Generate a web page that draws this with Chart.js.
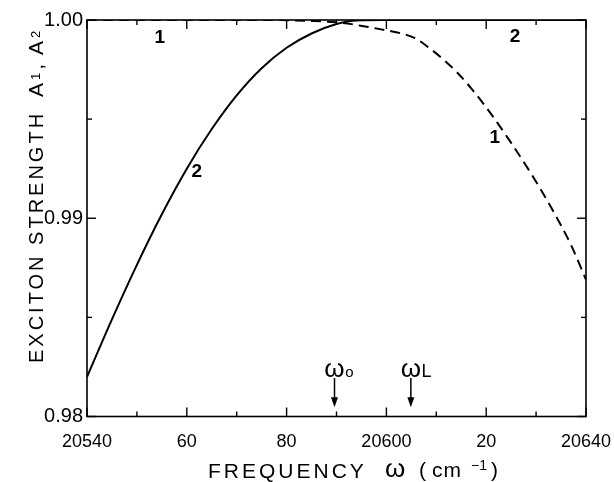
<!DOCTYPE html>
<html><head><meta charset="utf-8">
<script src="https://cdn.jsdelivr.net/npm/chart.js@4"></script>
<style>html,body{margin:0;padding:0;background:#fff}</style>
</head><body>
<canvas id="c" width="614" height="482" style="width:614px;height:482px;display:block"></canvas>
<script>
// ---- data ----
const curve2Freq     = [20540, 20545, 20550, 20555, 20560, 20565, 20570, 20575, 20580, 20585, 20590, 20594, 20600, 20640];
const curve2Strength = [0.98200, 0.98490, 0.98765, 0.99020, 0.99250, 0.99450, 0.99620, 0.99757, 0.99860, 0.99932, 0.99980, 0.99998, 1.00000, 1.00000];
const curve1Freq     = [20540, 20575, 20585, 20591, 20596, 20601, 20604, 20606, 20608, 20611, 20614, 20617, 20621, 20625, 20629, 20633, 20637, 20640];
const curve1Strength = [1.00000, 1.00000, 0.99995, 0.99986, 0.99966, 0.99943, 0.99925, 0.99905, 0.99870, 0.99810, 0.99740, 0.99655, 0.99525, 0.99380, 0.99225, 0.99055, 0.98865, 0.98690];
const xTicks    = [20540, 20550, 20560, 20570, 20580, 20590, 20600, 20610, 20620, 20630, 20640];
const xTickText = ['20540', '', '60', '', '80', '', '20600', '', '20', '', '20640'];
const yTicks    = [0.98, 0.985, 0.99, 0.995, 1.00];
const yTickText = ['0.98', '', '0.99', '', '1.00'];
const curveLabelText     = ['1', '2', '1', '2'];
const curveLabelFreq     = [20554.6, 20625.8, 20621.7, 20562.0];
const curveLabelStrength = [0.99909, 0.99914, 0.99404, 0.99234];
const markerSub  = ['o', 'L'];
const markerFreq = [20589.6, 20604.9];
const arrowFrom = 0.98194, arrowTo = 0.98047;
const xTitle = 'FREQUENCY';
const yTitle = 'EXCITON STRENGTH';

const FONT = '"Liberation Sans", Arial, sans-serif';
const zip = (xs, ys) => xs.map((v, i) => ({x: v, y: ys[i]}));

const framePlugin = {
  id: 'frame',
  afterDatasetsDraw(chart) {
    const {ctx, chartArea: a, scales: {x, y}} = chart;
    const line = (x0, y0, x1, y1) => { ctx.beginPath(); ctx.moveTo(x0, y0); ctx.lineTo(x1, y1); ctx.stroke(); };
    ctx.save();
    ctx.strokeStyle = '#000'; ctx.fillStyle = '#000';
    ctx.lineWidth = 1.6;
    ctx.strokeRect(a.left, a.top, a.right - a.left, a.bottom - a.top);
    ctx.lineWidth = 1.4;
    xTicks.forEach((v, i) => {
      const px = x.getPixelForValue(v), L = xTickText[i] ? 9 : 5;
      line(px, a.bottom, px, a.bottom - L);
      line(px, a.top, px, a.top + L);
    });
    yTicks.forEach((v, i) => {
      const py = y.getPixelForValue(v), L = yTickText[i] ? 9 : 5;
      line(a.left, py, a.left + L, py);
      line(a.right, py, a.right - L, py);
    });
    // curve labels
    ctx.font = 'bold 19px ' + FONT; ctx.textAlign = 'center'; ctx.textBaseline = 'middle';
    curveLabelText.forEach((t, i) => ctx.fillText(t, x.getPixelForValue(curveLabelFreq[i]), y.getPixelForValue(curveLabelStrength[i])));
    // arrows and omega markers
    markerFreq.forEach((f, i) => {
      const px = x.getPixelForValue(f), y0 = y.getPixelForValue(arrowFrom), y1 = y.getPixelForValue(arrowTo);
      ctx.lineWidth = 1.5;
      line(px, y0, px, y1 - 6);
      ctx.beginPath(); ctx.moveTo(px - 3.5, y1 - 10); ctx.lineTo(px + 3.5, y1 - 10); ctx.lineTo(px, y1); ctx.closePath(); ctx.fill();
      ctx.textAlign = 'left'; ctx.textBaseline = 'alphabetic';
      ctx.font = '26px ' + FONT;
      const w = ctx.measureText('\u03c9').width;
      ctx.fillText('\u03c9', px - w / 2, y0 - 1);
      ctx.font = (markerSub[i] === 'L' ? '18px ' : '15px ') + FONT;
      ctx.fillText(markerSub[i], px + w / 2 + 0.5, y0 - 1);
    });
    // x title
    ctx.textAlign = 'left'; ctx.textBaseline = 'alphabetic';
    ctx.font = '21px ' + FONT; ctx.letterSpacing = '3px';
    ctx.fillText(xTitle, 208, 478);
    ctx.letterSpacing = '0px';
    ctx.font = '26px ' + FONT; ctx.fillText('\u03c9', 385, 477);
    ctx.font = '21px ' + FONT; ctx.letterSpacing = '1px';
    ctx.fillText('(', 419, 477);
    ctx.fillText('cm', 432, 477);
    ctx.font = '14px ' + FONT; ctx.letterSpacing = '0px';
    ctx.fillText('\u22121', 471, 470);
    ctx.font = '21px ' + FONT;
    ctx.fillText(')', 491, 477);
    // y title (rotated)
    ctx.save();
    ctx.translate(43, 363); ctx.rotate(-Math.PI / 2);
    ctx.font = '20px ' + FONT; ctx.letterSpacing = '3px';
    ctx.fillText(yTitle, 0, 0);
    let cx = 266;
    const seg = (t, size, dy) => { ctx.font = size + 'px ' + FONT; ctx.fillText(t, cx, dy); cx += ctx.measureText(t).width; };
    seg('A', 21, 0); seg('1', 13, -3); seg(',', 21, 0); cx += 6; seg('A', 21, 0); seg('2', 13, -3);
    ctx.restore();
    ctx.restore();
  }
};

new Chart(document.getElementById('c'), {
  type: 'line',
  data: {
    datasets: [
      {label: '2', data: zip(curve2Freq, curve2Strength), borderColor: '#000', borderWidth: 2, pointRadius: 0,
       cubicInterpolationMode: 'monotone', fill: false},
      {label: '1', data: zip(curve1Freq, curve1Strength), borderColor: '#000', borderWidth: 2, pointRadius: 0,
       borderDash: [10, 6], cubicInterpolationMode: 'monotone', fill: false}
    ]
  },
  options: {
    responsive: false, animation: false, devicePixelRatio: 1,
    layout: {padding: {top: 20, right: 28, left: 0, bottom: 0}},
    plugins: {legend: {display: false}, tooltip: {enabled: false}},
    scales: {
      x: {
        type: 'linear', min: 20540, max: 20640,
        grid: {display: false, drawTicks: false}, border: {display: false},
        afterBuildTicks: s => { s.ticks = xTicks.map(v => ({value: v})); },
        ticks: {autoSkip: false, maxRotation: 0, padding: 15, color: '#000', font: {size: 18, family: FONT},
                callback: (v, i) => xTickText[i]},
        afterFit: s => { s.height = 65.5; s.paddingLeft = 0; s.paddingRight = 0; }
      },
      y: {
        type: 'linear', min: 0.98, max: 1.0,
        grid: {display: false, drawTicks: false}, border: {display: false},
        afterBuildTicks: s => { s.ticks = yTicks.map(v => ({value: v})); },
        ticks: {autoSkip: false, padding: 4, color: '#000', font: {size: 20, family: FONT},
                callback: (v, i) => yTickText[i]},
        afterFit: s => { s.width = 87; s.paddingTop = 0; s.paddingBottom = 0; }
      }
    }
  },
  plugins: [framePlugin]
});
</script>
</body></html>
